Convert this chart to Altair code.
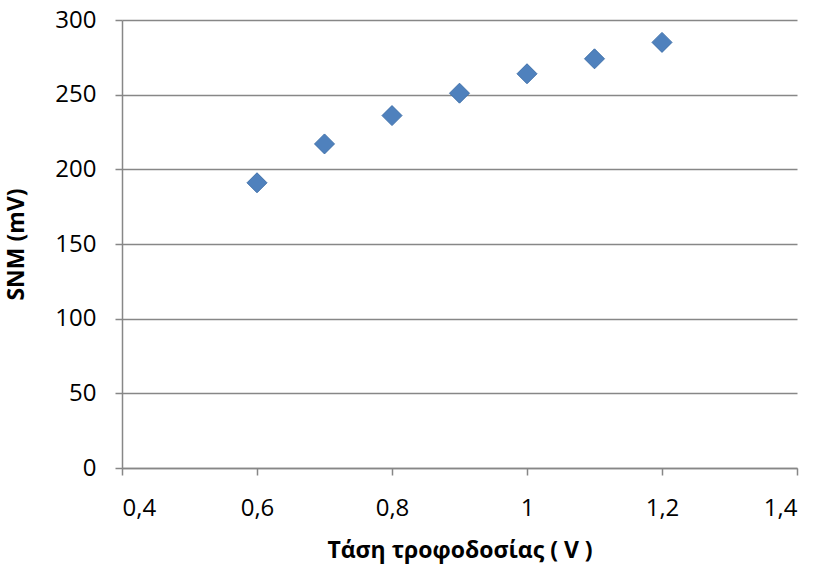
import altair as alt
import pandas as pd

voltage = [0.6, 0.7, 0.8, 0.9, 1.0, 1.1, 1.2]
snm = [191, 217, 236, 251, 264, 274, 285]
x_ticks = [0.4, 0.6, 0.8, 1.0, 1.2, 1.4]
y_ticks = [0, 50, 100, 150, 200, 250, 300]

df = pd.DataFrame({"v": voltage, "snm": snm})

FONT = "Open Sans"
GRID = "#878787"

chart = alt.Chart(df).mark_point(
    shape="diamond", filled=True, size=400, color="#4F81BD",
    stroke="#3F70AA", strokeWidth=1, opacity=1
).encode(
    x=alt.X("v:Q", scale=alt.Scale(domain=[0.4, 1.4], nice=False, zero=False),
            axis=alt.Axis(values=x_ticks, title="Τάση τροφοδοσίας ( V )",
                          labelExpr="replace(format(datum.value, '.2~f'), '.', ',')",
                          grid=False, domainColor=GRID, domainWidth=1.5,
                          tickColor=GRID, tickWidth=1.5, tickSize=7,
                          labelFont=FONT, labelFontSize=24, labelColor="#000000",
                          labelPadding=21, titleFont=FONT, titleFontSize=23,
                          titleFontWeight="bold", titleColor="#000000", titlePadding=19)),
    y=alt.Y("snm:Q", scale=alt.Scale(domain=[0, 300], nice=False),
            axis=alt.Axis(values=y_ticks, title="SNM (mV)",
                          grid=True, gridColor=GRID, gridWidth=1.5,
                          domainColor=GRID, domainWidth=1.5,
                          tickColor=GRID, tickWidth=1.5, tickSize=7,
                          labelFont=FONT, labelFontSize=24, labelColor="#000000",
                          labelPadding=19, titleFont=FONT, titleFontSize=23,
                          titleFontWeight="bold", titleColor="#000000", titlePadding=26)),
).properties(
    width=675, height=448,
    autosize=alt.AutoSizeParams(type="none"),
    padding={"left": 122, "top": 20, "right": 19, "bottom": 98},
).configure(background="white").configure_view(strokeWidth=0, stroke="transparent")

chart.save("out.html", embed_options={"renderer": "svg", "actions": False})
